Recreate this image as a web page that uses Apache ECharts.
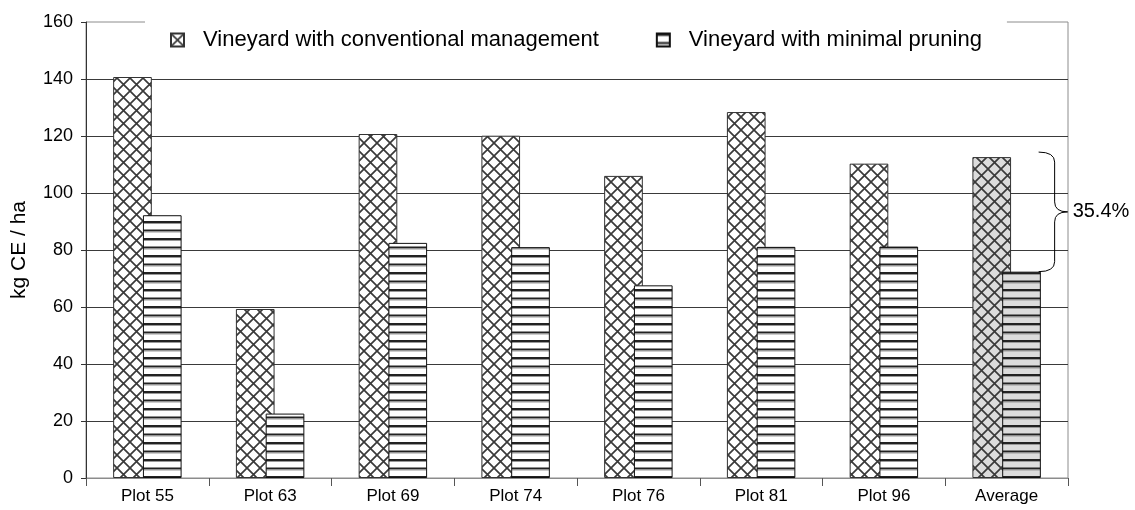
<!DOCTYPE html>
<html>
<head>
<meta charset="utf-8">
<script src="https://cdn.jsdelivr.net/npm/echarts@6/dist/echarts.min.js"></script>
<style>
html,body{margin:0;padding:0;background:#fff;}
#chart{width:1135px;height:510px;}
</style>
</head>
<body>
<div id="chart"></div>
<script>
const categories = ['Plot 55', 'Plot 63', 'Plot 69', 'Plot 74', 'Plot 76', 'Plot 81', 'Plot 96', 'Average'];
const conventional = [140.7, 59.3, 120.7, 120.1, 106.0, 128.4, 110.3, 112.6];
const minimalPruning = [92.2, 22.6, 82.5, 81.0, 67.6, 81.1, 81.2, 72.4];
const seriesNames = ['Vineyard with conventional management', 'Vineyard with minimal pruning'];
const yMin = 0, yMax = 160, yInterval = 20;
const yAxisName = 'kg CE / ha';
const braceLabel = '35.4%';
const averageIndex = 7;

const FONT = '"Liberation Sans", Arial, sans-serif';

function crossPattern(bg) {
  const s = 13;
  const c = document.createElement('canvas');
  c.width = s; c.height = s;
  const g = c.getContext('2d');
  g.fillStyle = bg; g.fillRect(0, 0, s, s);
  g.strokeStyle = '#3a3a3a'; g.lineWidth = 1.7;
  g.beginPath();
  g.moveTo(0, 0); g.lineTo(s, s);
  g.moveTo(s, 0); g.lineTo(0, s);
  g.stroke();
  return { image: c, repeat: 'repeat' };
}
function stripePattern(bg) {
  const w = 4, h = 17;
  const c = document.createElement('canvas');
  c.width = w; c.height = h;
  const g = c.getContext('2d');
  g.fillStyle = bg; g.fillRect(0, 0, w, h);
  g.fillStyle = '#222'; g.fillRect(0, 0, w, 2); g.fillRect(0, 8.5, w, 2);
  g.fillStyle = '#999'; g.fillRect(0, 2, w, 1); g.fillRect(0, 10.5, w, 1);
  return { image: c, repeat: 'repeat' };
}

const crossWhite = crossPattern('#ffffff');
const crossGray = crossPattern('#dcdcdc');
const stripeWhite = stripePattern('#ffffff');
const stripeGray = stripePattern('#dcdcdc');

const convData = conventional.map((v, i) => i === averageIndex ? { value: v, itemStyle: { color: crossGray } } : v);
const minData = minimalPruning.map((v, i) => i === averageIndex ? { value: v, itemStyle: { color: stripeGray } } : v);

const chart = echarts.init(document.getElementById('chart'), null, { renderer: 'canvas' });
chart.setOption({
  animation: false,
  backgroundColor: '#fff',
  textStyle: { fontFamily: FONT },
  grid: { left: 86, right: 67, top: 22, bottom: 32, show: true, borderColor: '#8c8c8c', borderWidth: 1, backgroundColor: 'transparent' },
  legend: {
    data: seriesNames,
    top: 8,
    left: 145,
    backgroundColor: '#fff',
    padding: [21, 25, 12, 25],
    itemGap: 57,
    itemWidth: 13,
    itemHeight: 13,
    icon: 'rect',
    textStyle: { fontSize: 22, color: '#000', fontFamily: FONT, padding: [0, 0, 0, 14] }
  },
  xAxis: {
    type: 'category',
    data: categories,
    axisLine: { show: true, lineStyle: { color: '#8c8c8c', width: 1 } },
    axisTick: { show: true, length: 8, lineStyle: { color: '#555' } },
    axisLabel: { fontSize: 17, color: '#000', margin: 10, fontFamily: FONT },
    splitLine: { show: false }
  },
  yAxis: {
    type: 'value',
    min: yMin, max: yMax, interval: yInterval,
    name: yAxisName,
    nameLocation: 'middle',
    nameRotate: 90,
    nameGap: 56,
    nameTextStyle: { fontSize: 21, color: '#000', fontFamily: FONT },
    axisLine: { show: true, lineStyle: { color: '#333', width: 1 } },
    axisTick: { show: true, length: 5, lineStyle: { color: '#333' } },
    axisLabel: { fontSize: 18, color: '#000', margin: 13, fontFamily: FONT },
    splitLine: { show: true, showMaxLine: false, lineStyle: { color: '#3a3a3a', width: 1 } }
  },
  series: [
    {
      name: seriesNames[0],
      type: 'bar',
      data: convData,
      barWidth: '31.5%',
      barGap: '-23%',
      itemStyle: { color: crossWhite, borderColor: '#333', borderWidth: 1 }
    },
    {
      name: seriesNames[1],
      type: 'bar',
      data: minData,
      barWidth: '31.5%',
      barGap: '-23%',
      itemStyle: { color: stripeWhite, borderColor: '#111', borderWidth: 1 }
    },
    {
      type: 'custom',
      clip: false,
      silent: true,
      z: 10,
      data: [[averageIndex, conventional[averageIndex], minimalPruning[averageIndex]]],
      encode: { x: 0, y: [1, 2] },
      renderItem: function (params, api) {
        const top = api.coord([api.value(0), api.value(1)]);
        const bot = api.coord([api.value(0), api.value(2)]);
        const cx = top[0];
        const y1 = top[1] - 5, y2 = bot[1];
        const ym = (y1 + y2) / 2;
        const xa = cx + 32, xm = cx + 48, xt = cx + 61, r = 10;
        const d = 'M' + xa + ',' + y1 + ' Q' + xm + ',' + y1 + ' ' + xm + ',' + (y1 + r) +
          ' L' + xm + ',' + (ym - r) + ' Q' + xm + ',' + ym + ' ' + xt + ',' + ym +
          ' Q' + xm + ',' + ym + ' ' + xm + ',' + (ym + r) +
          ' L' + xm + ',' + (y2 - r) + ' Q' + xm + ',' + y2 + ' ' + xa + ',' + y2;
        return {
          type: 'group',
          children: [
            { type: 'path', shape: { pathData: d }, style: { fill: 'none', stroke: '#000', lineWidth: 1 } },
            { type: 'text', x: xt + 5, y: ym, style: { text: braceLabel, fill: '#000', fontSize: 20, fontFamily: FONT, align: 'left', verticalAlign: 'middle' } }
          ]
        };
      }
    }
  ]
});
</script>
</body>
</html>
